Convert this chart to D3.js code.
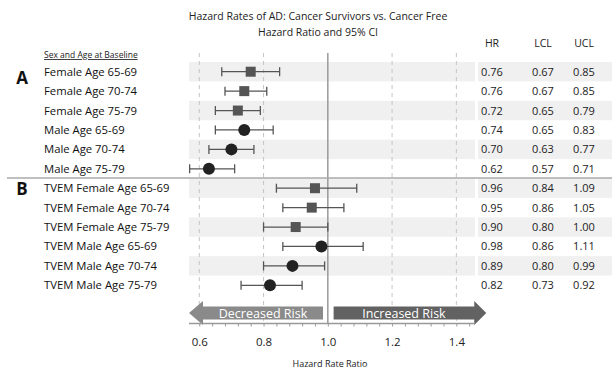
<!DOCTYPE html>
<html>
<head>
<meta charset="utf-8">
<script src="https://cdn.jsdelivr.net/npm/d3@7"></script>
<style>
  body { margin: 0; background: #fff; }
  svg { font-family: "Open Sans", sans-serif; }
</style>
</head>
<body>
<svg id="chart" width="612" height="372"></svg>
<script>
// row labels, top to bottom
const labels = [
  'Female Age 65-69', 'Female Age 70-74', 'Female Age 75-79',
  'Male Age 65-69', 'Male Age 70-74', 'Male Age 75-79',
  'TVEM Female Age 65-69', 'TVEM Female Age 70-74', 'TVEM Female Age 75-79',
  'TVEM Male Age 65-69', 'TVEM Male Age 70-74', 'TVEM Male Age 75-79'
];
const sexes = ['F', 'F', 'F', 'M', 'M', 'M', 'F', 'F', 'F', 'M', 'M', 'M'];

// table columns as printed
const hrText  = ['0.76', '0.76', '0.72', '0.74', '0.70', '0.62', '0.96', '0.95', '0.90', '0.98', '0.89', '0.82'];
const lclText = ['0.67', '0.67', '0.65', '0.65', '0.63', '0.57', '0.84', '0.86', '0.80', '0.86', '0.80', '0.73'];
const uclText = ['0.85', '0.85', '0.79', '0.83', '0.77', '0.71', '1.09', '1.05', '1.00', '1.11', '0.99', '0.92'];

// positions of the markers as drawn in the plot
const hr  = [0.76, 0.74, 0.72, 0.74, 0.70, 0.63, 0.96, 0.95, 0.90, 0.98, 0.89, 0.82];
const lcl = [0.67, 0.68, 0.65, 0.65, 0.63, 0.57, 0.84, 0.86, 0.80, 0.86, 0.80, 0.73];
const ucl = [0.85, 0.81, 0.79, 0.83, 0.77, 0.71, 1.09, 1.05, 1.00, 1.11, 0.99, 0.92];

const tickValues = [0.6, 0.8, 1.0, 1.2, 1.4];
const gridValues = [0.6, 0.8, 1.2, 1.4];

const svg = d3.select('#chart');

const x = d3.scaleLinear().domain([0.568, 1.458]).range([189, 475]);
const y = d3.scaleBand().domain(d3.range(labels.length)).range([62, 295]);
const yc = i => y(i) + y.bandwidth() / 2;
const axisY = 323.5;

// title
svg.append('text').attr('x', 318).attr('y', 20).attr('text-anchor', 'middle')
  .attr('font-size', 10.5).attr('fill', '#222')
  .text('Hazard Rates of AD: Cancer Survivors vs. Cancer Free');
svg.append('text').attr('x', 318).attr('y', 36).attr('text-anchor', 'middle')
  .attr('font-size', 10.5).attr('fill', '#222')
  .text('Hazard Ratio and 95% CI');

// alternating bands
const bandRows = d3.range(labels.length).filter(i => i % 2 === 0);
svg.selectAll('.band').data(bandRows).enter().append('rect')
  .attr('x', 189).attr('width', 286)
  .attr('y', i => y(i)).attr('height', y.bandwidth())
  .attr('fill', '#f0f0f0');
svg.selectAll('.tband').data(bandRows).enter().append('rect')
  .attr('x', 478).attr('width', 134)
  .attr('y', i => y(i)).attr('height', y.bandwidth())
  .attr('fill', '#f0f0f0');

// grid lines
svg.selectAll('.grid').data(gridValues).enter().append('line')
  .attr('x1', d => x(d)).attr('x2', d => x(d))
  .attr('y1', 53).attr('y2', axisY)
  .attr('stroke', '#c4c4c4').attr('stroke-dasharray', '4,4');
svg.append('line')
  .attr('x1', x(1)).attr('x2', x(1)).attr('y1', 53).attr('y2', axisY)
  .attr('stroke', '#999').attr('stroke-width', 1.5);

// A / B separator
svg.append('line').attr('x1', 7).attr('x2', 612).attr('y1', 178).attr('y2', 178)
  .attr('stroke', '#aaa').attr('stroke-width', 1.5);

// header
svg.append('text').attr('x', 44).attr('y', 58).attr('font-size', 8.5)
  .attr('text-decoration', 'underline').attr('fill', '#222')
  .text('Sex and Age at Baseline');
svg.append('text').attr('x', 22).attr('y', 84).attr('text-anchor', 'middle')
  .attr('font-size', 17).attr('font-weight', 'bold').attr('fill', '#111').text('A');
svg.append('text').attr('x', 22).attr('y', 195).attr('text-anchor', 'middle')
  .attr('font-size', 17).attr('font-weight', 'bold').attr('fill', '#111').text('B');

const cols = [
  { name: 'HR', x: 492, vals: hrText },
  { name: 'LCL', x: 543, vals: lclText },
  { name: 'UCL', x: 584, vals: uclText }
];
cols.forEach(c => {
  svg.append('text').attr('x', c.x).attr('y', 47).attr('text-anchor', 'middle')
    .attr('font-size', 10.5).attr('fill', '#222').text(c.name);
  svg.selectAll(null).data(c.vals).enter().append('text')
    .attr('x', c.x).attr('y', (d, i) => yc(i) + 4)
    .attr('text-anchor', 'middle').attr('font-size', 11).attr('fill', '#222')
    .text(d => d);
});

// row labels
svg.selectAll('.lab').data(labels).enter().append('text')
  .attr('x', 44).attr('y', (d, i) => yc(i) + 4)
  .attr('font-size', 11.3).attr('fill', '#111')
  .text(d => d);

// error bars
const rows = d3.range(labels.length);
svg.selectAll('.ci').data(rows).enter().append('line')
  .attr('x1', i => x(lcl[i])).attr('x2', i => x(ucl[i]))
  .attr('y1', yc).attr('y2', yc)
  .attr('stroke', '#555').attr('stroke-width', 1.3);
[lcl, ucl].forEach(arr => {
  svg.selectAll(null).data(rows).enter().append('line')
    .attr('x1', i => x(arr[i])).attr('x2', i => x(arr[i]))
    .attr('y1', i => yc(i) - 4.5).attr('y2', i => yc(i) + 4.5)
    .attr('stroke', '#555').attr('stroke-width', 1.3);
});

// markers
svg.selectAll('.sq').data(rows.filter(i => sexes[i] === 'F')).enter().append('rect')
  .attr('x', i => x(hr[i]) - 5).attr('y', i => yc(i) - 5)
  .attr('width', 10).attr('height', 10).attr('fill', '#555');
svg.selectAll('.dot').data(rows.filter(i => sexes[i] === 'M')).enter().append('circle')
  .attr('cx', i => x(hr[i])).attr('cy', yc).attr('r', 6).attr('fill', '#222');

// risk arrows
const arrowTop = 301, arrowBot = 325, bodyTop = 306.5, bodyBot = 319.5;
const decX0 = x(0.568), decX1 = x(0.985);
svg.append('path')
  .attr('d', `M${decX0},${(arrowTop + arrowBot) / 2} L${decX0 + 14},${arrowTop} L${decX0 + 14},${bodyTop} L${decX1},${bodyTop} L${decX1},${bodyBot} L${decX0 + 14},${bodyBot} L${decX0 + 14},${arrowBot} Z`)
  .attr('fill', '#8a8a8a');
const incX0 = x(1.018), incX1 = x(1.493);
svg.append('path')
  .attr('d', `M${incX1},${(arrowTop + arrowBot) / 2} L${incX1 - 12},${arrowTop} L${incX1 - 12},${bodyTop} L${incX0},${bodyTop} L${incX0},${bodyBot} L${incX1 - 12},${bodyBot} L${incX1 - 12},${arrowBot} Z`)
  .attr('fill', '#626262');
svg.append('text').attr('x', (decX0 + 14 + decX1) / 2).attr('y', 317.5)
  .attr('text-anchor', 'middle').attr('font-size', 12.5).attr('fill', '#fff')
  .text('Decreased Risk');
svg.append('text').attr('x', (incX0 + incX1 - 12) / 2).attr('y', 317.5)
  .attr('text-anchor', 'middle').attr('font-size', 12.5).attr('fill', '#fff')
  .text('Increased Risk');

// x axis
const axis = svg.append('g').attr('transform', `translate(0,${axisY})`)
  .call(d3.axisBottom(x).tickValues(d3.range(0.6, 1.45, 0.04)).tickSize(3).tickFormat(''));
axis.select('.domain').attr('stroke', '#999').attr('stroke-width', 1.5).attr('d', `M189,0H475`);
axis.selectAll('.tick line').attr('stroke', '#999');
svg.append('g').attr('transform', `translate(0,${axisY})`)
  .call(d3.axisBottom(x).tickValues(tickValues).tickSize(0).tickPadding(14).tickFormat(d3.format('.1f')))
  .call(g => g.select('.domain').remove())
  .call(g => g.selectAll('text').attr('font-size', 11.5).attr('fill', '#222')
    .attr('font-family', '"Open Sans", sans-serif'));

svg.append('text').attr('x', 330).attr('y', 367).attr('text-anchor', 'middle')
  .attr('font-size', 9).attr('fill', '#222').text('Hazard Rate Ratio');
</script>
</body>
</html>
